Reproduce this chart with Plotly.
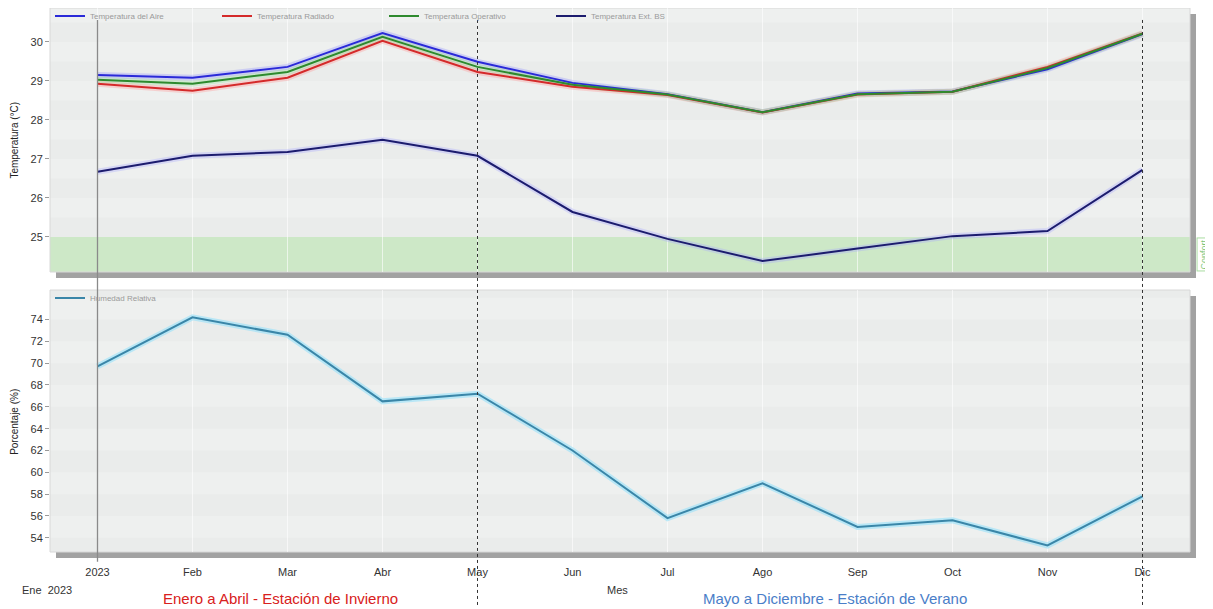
import plotly.graph_objects as go

months = ["2023", "Feb", "Mar", "Abr", "May", "Jun", "Jul", "Ago", "Sep", "Oct", "Nov", "Dic"]
x_idx = list(range(12))

t_aire = [29.15, 29.08, 29.36, 30.23, 29.49, 28.95, 28.66, 28.20, 28.68, 28.73, 29.30, 30.20]
t_radiado = [28.93, 28.75, 29.08, 30.03, 29.23, 28.85, 28.64, 28.19, 28.65, 28.72, 29.36, 30.22]
t_operativo = [29.03, 28.93, 29.23, 30.13, 29.36, 28.90, 28.65, 28.20, 28.66, 28.72, 29.33, 30.21]
t_ext_bs = [26.67, 27.08, 27.18, 27.49, 27.08, 25.64, 24.95, 24.38, 24.70, 25.02, 25.15, 26.72]
humedad = [69.7, 74.2, 72.6, 66.5, 67.2, 62.0, 55.8, 59.0, 55.0, 55.6, 53.3, 57.8]

temp_ticks = [25, 26, 27, 28, 29, 30]
hum_ticks = [54, 56, 58, 60, 62, 64, 66, 68, 70, 72, 74]

fig = go.Figure()

series = [
    ("Temperatura del Aire", t_aire, "#2a2ad8", "rgba(150,150,255,0.35)"),
    ("Temperatura Radiado", t_radiado, "#d42a2a", "rgba(255,150,150,0.35)"),
    ("Temperatura Operativo", t_operativo, "#2e8a2e", "rgba(150,220,150,0.35)"),
    ("Temperatura Ext. BS", t_ext_bs, "#1c1c6e", "rgba(170,170,255,0.35)"),
]
for name, vals, col, halo in series:
    fig.add_trace(go.Scatter(x=x_idx, y=vals, mode="lines", line=dict(color=halo, width=6),
                             hoverinfo="skip", showlegend=False, xaxis="x", yaxis="y"))
for name, vals, col, halo in series:
    fig.add_trace(go.Scatter(x=x_idx, y=vals, mode="lines", name=name,
                             line=dict(color=col, width=2), xaxis="x", yaxis="y", legend="legend"))

fig.add_trace(go.Scatter(x=x_idx, y=humedad, mode="lines", line=dict(color="rgba(150,225,250,0.6)", width=6),
                         hoverinfo="skip", showlegend=False, xaxis="x2", yaxis="y2"))
fig.add_trace(go.Scatter(x=x_idx, y=humedad, mode="lines", name="Humedad Relativa",
                         line=dict(color="#3a86a8", width=2), xaxis="x2", yaxis="y2", legend="legend2"))

top_dom = [0.5147, 1.0]
bot_dom = [0.0, 0.4816]
y1_range = [24.1, 30.87]
y2_range = [52.7, 76.7]

shapes = []
# background stripes
v = 24.0
i = 0
while v < 31:
    if i % 2 == 0:
        shapes.append(dict(type="rect", xref="x domain", yref="y", x0=0, x1=1, y0=v, y1=v + 0.5,
                           fillcolor="rgba(0,0,0,0.016)", line=dict(width=0), layer="below"))
    v += 0.5
    i += 1
v = 52.0
i = 0
while v < 77:
    if i % 2 == 0:
        shapes.append(dict(type="rect", xref="x2 domain", yref="y2", x0=0, x1=1, y0=v, y1=v + 2,
                           fillcolor="rgba(0,0,0,0.016)", line=dict(width=0), layer="below"))
    v += 2
    i += 1

# comfort band
shapes.append(dict(type="rect", xref="x domain", yref="y", x0=0, x1=1, y0=24.1, y1=25,
                   fillcolor="#cde8c7", line=dict(width=0), layer="below"))

# shadows
sx = 6 / 1140
for dom in (top_dom, bot_dom):
    sy = 6 / 544
    shapes.append(dict(type="rect", xref="paper", yref="paper", x0=1, x1=1 + sx,
                       y0=dom[0] - sy, y1=dom[1] - sy, fillcolor="#a2a2a2", line=dict(width=0), layer="below"))
    shapes.append(dict(type="rect", xref="paper", yref="paper", x0=sx, x1=1 + sx,
                       y0=dom[0] - sy, y1=dom[0], fillcolor="#a2a2a2", line=dict(width=0), layer="below"))
    shapes.append(dict(type="rect", xref="paper", yref="paper", x0=0, x1=1,
                       y0=dom[0], y1=dom[1], fillcolor="rgba(0,0,0,0)",
                       line=dict(width=1, color="#d8d8d8"), layer="below"))

# vertical markers
shapes.append(dict(type="line", xref="x", yref="paper", x0=0, x1=0, y0=0.978, y1=-0.018,
                   line=dict(color="#8a8a8a", width=1.3)))
for xv in (4, 11):
    shapes.append(dict(type="line", xref="x", yref="paper", x0=xv, x1=xv, y0=0.978, y1=-0.1,
                       line=dict(color="#333333", width=1, dash="dot")))

annotations = [
    dict(text="Temperatura (°C)", xref="paper", yref="paper", x=-0.0312, y=0.757, textangle=-90,
         xanchor="center", yanchor="middle",
         showarrow=False, font=dict(size=10, color="#222")),
    dict(text="Porcentaje (%)", xref="paper", yref="paper", x=-0.0312, y=0.24, textangle=-90,
         xanchor="center", yanchor="middle",
         showarrow=False, font=dict(size=10, color="#222")),
    dict(text="Confort", xref="paper", yref="y", x=1.0, xshift=14, y=24.55, textangle=-90,
         xanchor="center", yanchor="middle",
         showarrow=False, font=dict(size=9, color="#7dc475"), bordercolor="#a8dca0", borderwidth=1,
         borderpad=1),
    dict(text="Ene  2023", xref="paper", yref="paper", x=-0.026, y=-0.07, xanchor="left", yanchor="middle",
         showarrow=False, font=dict(size=11, color="#333")),
    dict(text="Mes", xref="paper", yref="paper", x=0.498, y=-0.07, xanchor="center", yanchor="middle",
         showarrow=False, font=dict(size=11, color="#333")),
    dict(text="Enero a Abril - Estación de Invierno", xref="paper", yref="paper", x=0.202, y=-0.085,
         xanchor="center", yanchor="middle",
         showarrow=False, font=dict(size=15, color="#d82020")),
    dict(text="Mayo a Diciembre - Estación de Verano", xref="paper", yref="paper", x=0.689, y=-0.085,
         xanchor="center", yanchor="middle",
         showarrow=False, font=dict(size=15, color="#4a7ec8")),
]

axis_common = dict(showline=False, zeroline=False, ticks="outside", ticklen=4, tickcolor="#999",
                   tickfont=dict(size=11, color="#333", family="Liberation Sans, Arial"))

fig.update_layout(
    width=1205, height=601,
    margin=dict(l=42, r=23, t=0, b=57, autoexpand=False),
    paper_bgcolor="white",
    plot_bgcolor="#eef0ef",
    font=dict(family="Liberation Sans, Arial"),
    showlegend=True,
    xaxis=dict(domain=[0, 1], range=[-0.5, 11.5], anchor="y", showticklabels=False,
               tickvals=x_idx, showgrid=True, gridcolor="rgba(255,255,255,0.6)", ticks="",
               zeroline=False, showline=False),
    yaxis=dict(domain=top_dom, range=y1_range, tickvals=temp_ticks, showgrid=False, **axis_common),
    xaxis2=dict(domain=[0, 1], range=[-0.5, 11.5], anchor="y2", tickvals=x_idx, ticktext=months,
                showgrid=True, gridcolor="rgba(255,255,255,0.6)", zeroline=False, showline=False,
                ticks="", ticklabelstandoff=12,
                tickfont=dict(size=11, color="#333", family="Liberation Sans, Arial")),
    yaxis2=dict(domain=bot_dom, range=y2_range, tickvals=hum_ticks, showgrid=False, anchor="x2",
                **axis_common),
    legend=dict(orientation="h", x=0, y=1.012, xanchor="left", yanchor="top",
                bgcolor="rgba(0,0,0,0)", font=dict(size=8, color="#9a9a9a"),
                entrywidth=122, entrywidthmode="pixels", itemwidth=30, tracegroupgap=0),
    legend2=dict(orientation="h", x=0, y=bot_dom[1] + 0.012, xanchor="left", yanchor="top",
                 bgcolor="rgba(0,0,0,0)", font=dict(size=8, color="#9a9a9a"), itemwidth=30),
    shapes=shapes,
    annotations=annotations,
)

fig.write_html("out.html")
